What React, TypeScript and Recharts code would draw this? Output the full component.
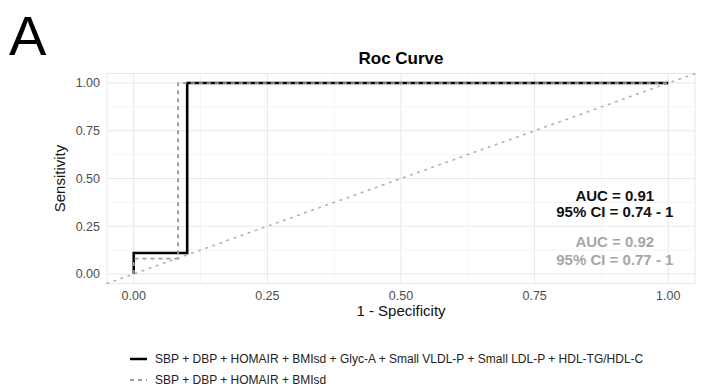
import {
  LineChart,
  Line,
  XAxis,
  YAxis,
  CartesianGrid,
  ReferenceLine,
  ReferenceDot,
  Legend,
} from "recharts";

// ROC points
const fprFull = [0, 0, 0.1, 0.1, 1];
const tprFull = [0, 0.11, 0.11, 1, 1];
const fprBase = [0, 0, 0.083, 0.083, 1];
const tprBase = [0, 0.08, 0.08, 1, 1];

const seriesNames = [
  "SBP + DBP + HOMAIR + BMIsd + Glyc-A + Small VLDL-P + Small LDL-P + HDL-TG/HDL-C",
  "SBP + DBP + HOMAIR + BMIsd",
];

const axisTicks = [0, 0.25, 0.5, 0.75, 1];
const minorTicks = [0.125, 0.375, 0.625, 0.875];
const axisDomain = [-0.05, 1.05];

const aucLabels = ["AUC = 0.91", "95% CI = 0.74 - 1", "AUC = 0.92", "95% CI = 0.77 - 1"];
const aucY = [0.412, 0.327, 0.169, 0.076];
const aucX = 0.9;

const FONT = '"Liberation Sans", Arial, sans-serif';
const SOLID = "#000000";
const DASHED = "#999999";

const toPoints = (xs: number[], ys: number[]) => xs.map((x, i) => ({ x, y: ys[i] }));

const LegendBox = () => (
  <div style={{ fontFamily: FONT, fontSize: 12, color: "#222" }}>
    {seriesNames.map((name, i) => (
      <div key={name} style={{ display: "flex", alignItems: "center", height: 21 }}>
        <svg width={18} height={10} style={{ marginRight: 7 }}>
          <line
            x1={0}
            y1={5}
            x2={17}
            y2={5}
            stroke={i === 0 ? SOLID : DASHED}
            strokeWidth={i === 0 ? 2.5 : 1.8}
            strokeDasharray={i === 0 ? undefined : "4 4"}
          />
        </svg>
        <span>{name}</span>
      </div>
    ))}
  </div>
);

export default function App() {
  return (
    <div style={{ position: "absolute", left: 0, top: 0, width: 704, height: 388, background: "#fff" }}>
      <div
        style={{
          position: "absolute",
          left: 9,
          top: 7.6,
          fontFamily: FONT,
          fontSize: 56,
          lineHeight: "56px",
          color: "#000",
        }}
      >
        A
      </div>
      <div
        style={{
          position: "absolute",
          left: 107,
          width: 588,
          top: 49.6,
          textAlign: "center",
          fontFamily: FONT,
          fontSize: 17,
          lineHeight: "17px",
          fontWeight: "bold",
          color: "#000",
        }}
      >
        Roc Curve
      </div>
      <LineChart
        width={704}
        height={388}
        margin={{ top: 73.5, right: 9, bottom: 64.5, left: 0 }}
        style={{ position: "absolute", left: 0, top: 0 }}
      >
        <CartesianGrid stroke="#e8e8e8" strokeWidth={1} />
        {minorTicks.map((v) => (
          <ReferenceLine key={"mx" + v} x={v} stroke="#f4f4f4" strokeWidth={1} />
        ))}
        {minorTicks.map((v) => (
          <ReferenceLine key={"my" + v} y={v} stroke="#f4f4f4" strokeWidth={1} />
        ))}
        <XAxis
          dataKey="x"
          type="number"
          domain={axisDomain}
          ticks={axisTicks}
          allowDataOverflow
          tickFormatter={(v) => v.toFixed(2)}
          axisLine={false}
          tickLine={false}
          tickSize={0}
          tickMargin={7.5}
          height={40}
          tick={{ fontSize: 12.5, fill: "#4d4d4d", fontFamily: FONT }}
          label={{
            value: "1 - Specificity",
            position: "insideBottom",
            offset: 7.5,
            style: { fontSize: 15, fill: "#111", fontFamily: FONT },
          }}
        />
        <YAxis
          dataKey="y"
          type="number"
          domain={axisDomain}
          ticks={axisTicks}
          allowDataOverflow
          tickFormatter={(v) => v.toFixed(2)}
          axisLine={false}
          tickLine={false}
          tickSize={0}
          tickMargin={7}
          width={107}
          tick={{ fontSize: 12.5, fill: "#4d4d4d", fontFamily: FONT }}
          label={{
            value: "Sensitivity",
            angle: -90,
            position: "insideLeft",
            offset: 60,
            style: { fontSize: 15, fill: "#111", fontFamily: FONT, textAnchor: "middle" },
          }}
        />
        <ReferenceLine
          segment={[
            { x: axisDomain[0], y: axisDomain[0] },
            { x: axisDomain[1], y: axisDomain[1] },
          ]}
          stroke="#b0b0b0"
          strokeWidth={1.6}
          strokeDasharray="1.5 6"
          strokeLinecap="round"
        />
        <Line
          data={toPoints(fprFull, tprFull)}
          dataKey="y"
          type="linear"
          name={seriesNames[0]}
          stroke={SOLID}
          strokeWidth={2.6}
          dot={false}
          isAnimationActive={false}
        />
        <Line
          data={toPoints(fprBase, tprBase)}
          dataKey="y"
          type="linear"
          name={seriesNames[1]}
          stroke={DASHED}
          strokeWidth={1.8}
          strokeDasharray="4 4"
          dot={false}
          isAnimationActive={false}
        />
        {aucLabels.map((text, i) => (
          <ReferenceDot
            key={text + i}
            x={aucX}
            y={aucY[i]}
            r={0}
            stroke="none"
            fill="none"
            label={{
              value: text,
              position: "center",
              style: {
                fontSize: 15,
                fontWeight: "bold",
                fontFamily: FONT,
                fill: i < 2 ? "#111" : "#a6a6a6",
              },
            }}
          />
        ))}
        <Legend
          layout="vertical"
          align="center"
          verticalAlign="middle"
          wrapperStyle={{ left: 130, top: 348.5, width: 560 }}
          content={() => <LegendBox />}
        />
      </LineChart>
    </div>
  );
}
